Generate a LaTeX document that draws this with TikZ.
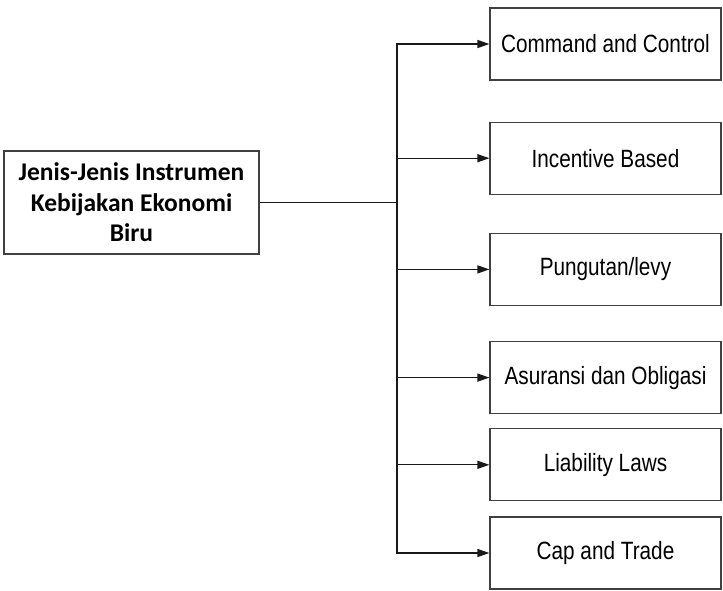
\documentclass[tikz,border=0pt]{standalone}
\usepackage{fontspec}
\usepackage{tikz}
\usetikzlibrary{positioning,arrows.meta}
\newfontfamily\mainboxfont{Carlito}
\newfontfamily\itemfont[FakeStretch=0.83]{Liberation Sans}

\begin{document}
\begin{tikzpicture}[x=1pt, y=-1pt,
	mainnode/.style={rectangle, draw=black!75, line width=1.2pt, minimum width=255pt, minimum height=103pt, align=center, font=\mainboxfont\bfseries\fontsize{25.5}{30.5}\selectfont},
	itemnode/.style={rectangle, draw=black!75, line width=1.2pt, minimum width=231pt, minimum height=72pt, inner sep=0pt, font=\itemfont\fontsize{25}{30}\selectfont},
	link/.style={draw=black!90, line width=1.3pt, -{Triangle[length=12pt,width=8pt]}},
	]
	\useasboundingbox (0,0) rectangle (723,590);
	
	%Nodes
	\node[mainnode] (Jenis) at (131.5,202.5) {Jenis-Jenis Instrumen\\Kebijakan Ekonomi\\Biru};
	\node[itemnode] (Command) at (605.5,44) {Command and Control};
	\node[itemnode] (Incentive) [below=41pt of Command] {Incentive Based};
	\node[itemnode] (Pungutan) [below=38pt of Incentive] {Pungutan/levy};
	\node[itemnode] (Asuransi) [below=35pt of Pungutan] {Asuransi dan Obligasi};
	\node[itemnode] (Liability) [below=14pt of Asuransi] {Liability Laws};
	\node[itemnode] (CapTrade) [below=15pt of Liability] {Cap and Trade};
	\coordinate (split) at (397,202.5);
	
	%Lines
	\draw[link] (Jenis.east) -- (split) |- (Command.west);
	\draw[link] (Jenis.east) -- (split) |- (Incentive.west);
	\draw[link] (Jenis.east) -- (split) |- (Pungutan.west);
	\draw[link] (Jenis.east) -- (split) |- (Asuransi.west);
	\draw[link] (Jenis.east) -- (split) |- (Liability.west);
	\draw[link] (Jenis.east) -- (split) |- (CapTrade.west);
	
\end{tikzpicture}
\end{document}
